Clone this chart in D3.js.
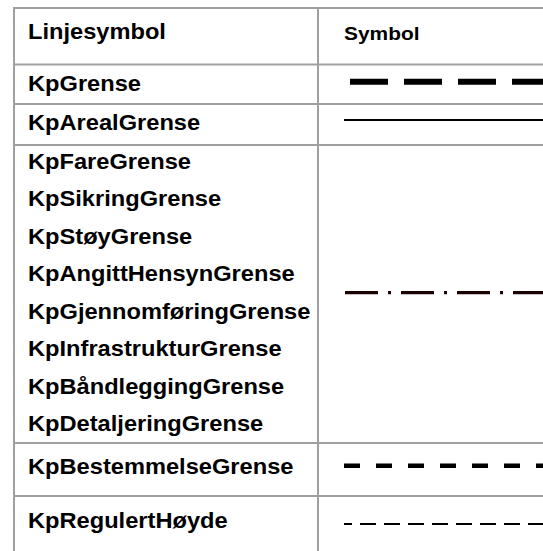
<!DOCTYPE html>
<html>
<head>
<meta charset="utf-8">
<script src="https://cdn.jsdelivr.net/npm/d3@7"></script>
<style>
  html, body { margin: 0; padding: 0; background: #fff; }
  svg { display: block; }
</style>
</head>
<body>
<div id="chart"></div>
<script>
// ---- data ----
const headerLeft = "Linjesymbol";
const headerRight = "Symbol";
const groupNames = [
  ["KpGrense"],
  ["KpArealGrense"],
  ["KpFareGrense", "KpSikringGrense", "KpStøyGrense", "KpAngittHensynGrense",
   "KpGjennomføringGrense", "KpInfrastrukturGrense", "KpBåndleggingGrense", "KpDetaljeringGrense"],
  ["KpBestemmelseGrense"],
  ["KpRegulertHøyde"]
];
const groupSymbols = ["grense", "areal", "dashdot", "bestemmelse", "regulert"];

// ---- layout ----
const W = 543, H = 551;
const leftX = 14, dividerX = 318, topY = 8;
const rowEdges = [8, 64.5, 104, 145, 443, 496, 560];
const textBaselines = [91, 129.5, 168.5, 474, 528];   // first line baseline of each group
const symbolY = [81.7, 120, 292.7, 465.7, 524];
const gridColor = "#a0a0a0";
const stretch = 1.1;

const symbolStyle = {
  grense:      { width: 6,   dash: "38,16", color: "#000", x0: 350, off: 0 },
  areal:       { width: 2,   dash: null,    color: "#000", x0: 344, off: 0 },
  dashdot:     { width: 3.2, dash: "33,10,3,10", color: "#1a0000", x0: 345, off: 0 },
  bestemmelse: { width: 4.5, dash: "16,16", color: "#000", x0: 344, off: 0 },
  regulert:    { width: 2,   dash: "16,8",  color: "#000", x0: 344, off: 8 }
};

const svg = d3.select("#chart").append("svg")
  .attr("width", W).attr("height", H);

// grid lines
const g = svg.append("g").attr("stroke", gridColor).attr("stroke-width", 2).attr("fill", "none");
g.append("line").attr("x1", leftX).attr("x2", leftX).attr("y1", topY - 1).attr("y2", H + 5);
g.append("line").attr("x1", dividerX).attr("x2", dividerX).attr("y1", topY - 1).attr("y2", H + 5);
rowEdges.forEach(y => {
  g.append("line").attr("x1", leftX - 1).attr("x2", W + 5).attr("y1", y).attr("y2", y);
});

function addText(x, y, txt, size) {
  svg.append("text")
    .attr("transform", `translate(${x},${y}) scale(${stretch},1)`)
    .attr("font-family", "'Liberation Sans', Arial, Helvetica, sans-serif")
    .attr("font-weight", "bold")
    .attr("font-size", size)
    .attr("fill", "#000")
    .text(txt);
}

// header
addText(28, 39, headerLeft, 21.5);
addText(344, 39.5, headerRight, 19);

// group rows
const lineStep = 37.5;
groupNames.forEach((names, gi) => {
  const yScale = d3.scaleLinear().domain([0, 1]).range([textBaselines[gi], textBaselines[gi] + lineStep]);
  names.forEach((nm, i) => addText(28, yScale(i), nm, 21.5));
  const st = symbolStyle[groupSymbols[gi]];
  const sy = symbolY[gi];
  const ln = svg.append("line")
    .attr("x1", st.x0).attr("x2", W + 10)
    .attr("y1", sy).attr("y2", sy)
    .attr("stroke", st.color)
    .attr("stroke-width", st.width);
  if (st.dash) ln.attr("stroke-dasharray", st.dash).attr("stroke-dashoffset", st.off);
});
</script>
</body>
</html>
